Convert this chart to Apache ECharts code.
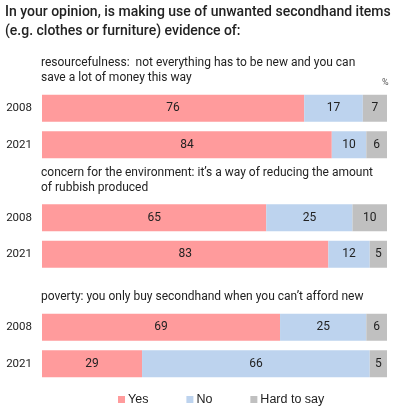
<!DOCTYPE html>
<html><head><meta charset="utf-8">
<script src="https://cdn.jsdelivr.net/npm/echarts@6/dist/echarts.min.js"></script>
<style>html,body{margin:0;padding:0;background:#fff}#c{width:397px;height:416px}</style>
</head><body><div id="c"></div>
<script>
const years = ['2008', '2021'];
const groupTitles = [
  'resourcefulness:  not everything has to be new and you can\nsave a lot of money this way',
  'concern for the environment: it\u2019s a way of reducing the amount\nof rubbish produced',
  'poverty: you only buy secondhand when you can\u2019t afford new'
];
const seriesNames = ['Yes', 'No', 'Hard to say'];
const yesValues = [[76, 84], [65, 83], [69, 29]];
const noValues = [[17, 10], [25, 12], [25, 66]];
const hardValues = [[7, 6], [10, 5], [6, 5]];
const colors = ['#FF9B9C', '#BDD3EE', '#C0C0C0'];

const chart = echarts.init(document.getElementById('c'), null, {renderer: 'canvas'});
const gridTops = [90, 199.5, 309];
const grids = [], xAxes = [], yAxes = [], series = [], titles = [];
titles.push({
  text: 'In your opinion, is making use of unwanted secondhand items\n(e.g. clothes or furniture) evidence of:',
  left: 5, top: 3, padding: 0,
  textStyle: {fontFamily: 'Roboto', fontSize: 14, fontWeight: 500, color: '#222', lineHeight: 19}
});
const subTops = [56, 166, 290];
groupTitles.forEach((t, i) => {
  titles.push({text: t, left: 41, top: subTops[i], padding: 0,
    textStyle: {fontFamily: 'Roboto', fontSize: 12, fontWeight: 'normal', color: '#222', lineHeight: 14.5}});
});
titles.push({text: '%', left: 382, top: 78, padding: 0, textStyle: {fontFamily: 'Roboto', fontSize: 9, fontWeight: 'normal', color: '#555'}});
const allVals = [yesValues, noValues, hardValues];
gridTops.forEach((top, g) => {
  grids.push({left: 42, right: 10, top: top, height: 73});
  xAxes.push({gridIndex: g, type: 'value', min: 0, max: 100, show: false});
  yAxes.push({gridIndex: g, type: 'category', data: years, inverse: true,
    axisLine: {show: false}, axisTick: {show: false}, splitLine: {show: false},
    axisLabel: {fontFamily: 'Roboto', fontSize: 11.5, color: '#222', margin: 10}});
  seriesNames.forEach((name, s) => {
    series.push({
      name: name, type: 'bar', stack: 'g' + g, xAxisIndex: g, yAxisIndex: g,
      data: allVals[s][g], barWidth: 27,
      itemStyle: {color: colors[s]},
      label: {show: true, position: 'inside', fontFamily: 'Roboto', fontSize: 12, color: '#222'},
      emphasis: {disabled: true}
    });
  });
});
chart.setOption({
  animation: false,
  title: titles,
  grid: grids, xAxis: xAxes, yAxis: yAxes, series: series,
  legend: {data: seriesNames, left: 118, top: 393, padding: 0, icon: 'rect', itemWidth: 7, itemHeight: 7,
    itemGap: 38, textStyle: {fontFamily: 'Liberation Sans', fontSize: 12.5, color: '#222', padding: [0,0,0,-2]}}
});
</script></body></html>
